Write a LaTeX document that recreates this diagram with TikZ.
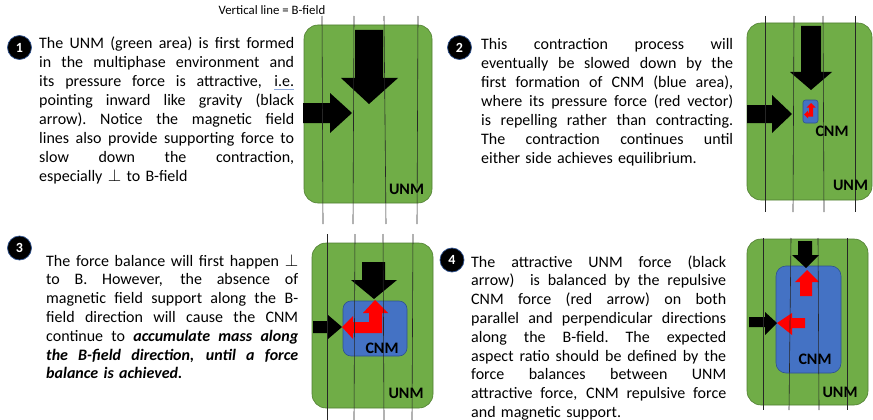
\documentclass[tikz,border=0pt]{standalone}
\usepackage{fontspec}
\setmainfont{Carlito}
\usepackage{amsmath}
\definecolor{unmgreen}{HTML}{70AD47}
\definecolor{unmedge}{HTML}{507E32}
\definecolor{cnmblue}{HTML}{4472C4}
\definecolor{cnmedge}{HTML}{2F528F}
\newlength{\parwd}
\setlength{\parwd}{255pt}
% one justified line of a paragraph
\newcommand{\jl}[1]{\hbox to \parwd{\spaceskip=0.23em plus 1fil\xspaceskip=0.23em plus 1fil\relax #1}}

\begin{document}
\begin{tikzpicture}[x=1pt,y=-1pt,
        unm/.style={fill=unmgreen,draw=unmedge,line width=0.6pt,rounded corners=14pt},
        cnm/.style={fill=cnmblue,draw=cnmedge,line width=0.6pt,rounded corners=#1},
        cnm/.default=8pt,
        push/.style={fill=black},
        repel/.style={fill=red},
        bline/.style={draw=black!85,line width=0.6pt},
        para/.style={text width=#1,inner sep=0pt,anchor=base west,
            execute at begin node={\setlength{\parwd}{#1}},
            font=\fontsize{16}{19}\selectfont},
        badge/.style={circle,fill=black,draw=cnmedge,line width=0.7pt,minimum size=24pt,
            inner sep=0pt,text=white,font=\bfseries\fontsize{14}{14}\selectfont},
        tag/.style={font=\bfseries\fontsize{16}{16}\selectfont,inner sep=0pt}]
    \useasboundingbox (0,0) rectangle (873,420);

    \node[font=\fontsize{12.8}{14}\selectfont] (legend) at (272,10) {Vertical line = B-field};

    % step 1
    \fill[unm] (304,25) rectangle (432,203);
    \fill[push] (355,30) -- (383,30) -- (383,78) -- (398,78) -- (369,104) -- (341,78) -- (355,78) -- cycle;
    \fill[push] (303,103) -- (330,103) -- (330,93) -- (352,113) -- (330,133) -- (330,123) -- (303,123) -- cycle;
    \draw[bline] (322,16) -- (323,224);
    \draw[bline] (354,16) -- (353,224);
    \draw[bline] (384,16) -- (386,224);
    \draw[bline] (418,16) -- (417,224);
    \node[tag] (unmA) at (406.5,189) {UNM};
    \node[badge] (numA) at (19.5,47.5) {1};
    \node[para=255pt] (txtA) at (39,49) {%
        \jl{The UNM (green area) is first formed}
        \jl{in the multiphase environment and}
        \jl{its pressure force is attractive, \textcolor{cnmblue!60}{\underline{\textcolor{black}{i.e.}}}}
        \jl{pointing inward like gravity (black}
        \jl{arrow). Notice the magnetic field}
        \jl{lines also provide supporting force to}
        \jl{slow down the contraction,}
        especially $\perp$ to B-field};

    % step 2
    \fill[unm] (747,23) rectangle (872,200);
    \fill[push] (801,26) -- (821,26) -- (821,72) -- (832,72) -- (811,90) -- (790,72) -- (801,72) -- cycle;
    \fill[push] (747,105) -- (772,105) -- (772,95) -- (792,114) -- (772,133) -- (772,123) -- (747,123) -- cycle;
    \fill[cnm=2.5pt] (803,100) rectangle (818,123);
    \fill[repel] (811,103) -- (815.5,107.5) -- (813,107.5) -- (813,116.5) -- (808,116.5) -- (808,118.5)
        -- (804,114.5) -- (808,110.5) -- (808,112.5) -- (809,112.5) -- (809,107.5) -- (806.5,107.5) -- cycle;
    \draw[bline] (765,16) -- (765,212);
    \draw[bline] (794,16) -- (793,212);
    \draw[bline] (823,16) -- (824,212);
    \draw[bline] (855,16) -- (855,212);
    \node[tag] (cnmB) at (832,131) {CNM};
    \node[tag] (unmB) at (850.5,185) {UNM};
    \node[badge] (numB) at (459.5,47.5) {2};
    \node[para=252pt] (txtB) at (481,50) {%
        \jl{This contraction process will}
        \jl{eventually be slowed down by the}
        \jl{first formation of CNM (blue area),}
        \jl{where its pressure force (red vector)}
        \jl{is repelling rather than contracting.}
        \jl{The contraction continues until}
        either side achieves equilibrium.};

    % step 3
    \fill[unm] (312,243) rectangle (433,408);
    \fill[cnm] (343,301) rectangle (407,356);
    \fill[push] (362,262) -- (385,262) -- (385,280) -- (397,280) -- (374,299) -- (351,280) -- (362,280) -- cycle;
    \fill[push] (313,321) -- (328,321) -- (328,315) -- (342,327) -- (328,339) -- (328,333) -- (313,333) -- cycle;
    \fill[repel] (375,300) -- (388,313) -- (382,313) -- (382,333) -- (353,333) -- (353,339) -- (342,327)
        -- (353,316) -- (353,322) -- (369,322) -- (369,313) -- (363,313) -- cycle;
    \draw[bline] (327,234) -- (327,420);
    \draw[bline] (355,234) -- (354,420);
    \draw[bline] (383,234) -- (384,420);
    \draw[bline] (413,234) -- (412,420);
    \node[tag] (cnmC) at (382,348) {CNM};
    \node[tag] (unmC) at (406,393) {UNM};
    \node[badge] (numC) at (19.5,248) {3};
    \node[para=252pt,font=\fontsize{16}{18.8}\selectfont] (txtC) at (46,266) {%
        \jl{The force balance will first happen $\perp$}
        \jl{to B. However, the absence of}
        \jl{magnetic field support along the B-}
        \jl{field direction will cause the CNM}
        \jl{continue to \textbf{\textit{accumulate mass along}}}
        \jl{\textbf{\textit{the B-field direction, until a force}}}
        \textbf{\textit{balance is achieved.}}};

    % step 4
    \fill[unm] (747,239) rectangle (868,405);
    \fill[cnm=10pt] (776,266) rectangle (841,373);
    \fill[push] (798,241) -- (812,241) -- (812,255) -- (819,255) -- (806,268) -- (792,255) -- (798,255) -- cycle;
    \fill[repel] (807,270) -- (819,282) -- (812,282) -- (812,296) -- (800,296) -- (800,282) -- (795,282) -- cycle;
    \fill[push] (749,317) -- (765,317) -- (765,312) -- (777,323) -- (765,335) -- (765,327) -- (749,327) -- cycle;
    \fill[repel] (777,323) -- (792,313) -- (792,318) -- (805,318) -- (805,328) -- (792,328) -- (792,335) -- cycle;
    \draw[bline] (763,238) -- (763,410);
    \draw[bline] (791,238) -- (789,410);
    \draw[bline] (818,238) -- (819,410);
    \draw[bline] (847,238) -- (847,410);
    \node[tag] (cnmD) at (815,359) {CNM};
    \node[tag] (unmD) at (840,392) {UNM};
    \node[badge] (numD) at (452,260) {4};
    \node[para=255pt,font=\fontsize{16}{18.8}\selectfont] (txtD) at (471,267) {%
        \jl{The attractive UNM force (black}
        \jl{arrow)~ is balanced by the repulsive}
        \jl{CNM force (red arrow) on both}
        \jl{parallel and perpendicular directions}
        \jl{along the B-field. The expected}
        \jl{aspect ratio should be defined by the}
        \jl{force balances between UNM}
        \jl{attractive force, CNM repulsive force}
        and magnetic support.};
\end{tikzpicture}
\end{document}
